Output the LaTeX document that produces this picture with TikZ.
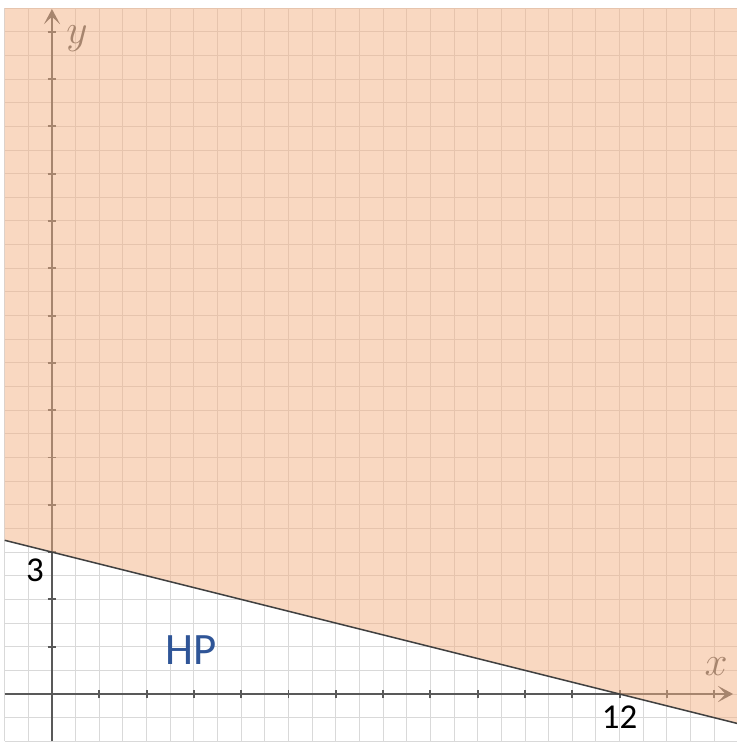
\documentclass[tikz,border=0pt]{standalone}
\usepackage{fontspec}
\newfontfamily\calib{Carlito}
\usetikzlibrary{arrows.meta}
\definecolor{gridgray}{HTML}{D9D9D9}
\definecolor{axisgray}{HTML}{595959}
\definecolor{bline}{HTML}{404040}
\definecolor{peach}{HTML}{F4B183}
\definecolor{hpblue}{HTML}{2F5597}
\tikzset{
  gridline/.style={draw=gridgray, line width=0.6pt},
  axisline/.style={draw=axisgray, line width=1.2pt, -{Stealth[length=3.2mm, width=3.4mm, inset=1.6mm]}},
  tickmark/.style={draw=axisgray, line width=1.1pt},
  axislabel/.style={text=axisgray, font=\fontsize{23}{26}\selectfont},
  numlabel/.style={text=black, font=\calib\fontsize{21}{24}\selectfont},
  region/.style={fill=peach, fill opacity=0.5},
  boundary/.style={draw=bline, line width=0.9pt}
}
\begin{document}
\begin{tikzpicture}
\useasboundingbox (-1.099,-1.078) rectangle (14.461,14.672);
% grid
\foreach \i in {0,...,31} {
  \draw[gridline] ({-1+0.5*\i},-1) -- ({-1+0.5*\i},14.5);
  \draw[gridline] (-1,{-1+0.5*\i}) -- (14.5,{-1+0.5*\i});
}
% axes
\coordinate (xs) at (-1,0);
\coordinate (xe) at (14.4,0);
\coordinate (ys) at (0,-1);
\coordinate (ye) at (0,14.48);
\draw[axisline] (xs) -- (xe);
\draw[axisline] (ys) -- (ye);
\foreach \k in {1,...,14} {
  \draw[tickmark] (\k,-0.09) -- (\k,0.09);
  \draw[tickmark] (-0.09,\k) -- (0.09,\k);
}
\node[axislabel] (xl) at (14.04,0.58) {$x$};
\node[axislabel] (yl) at (0.53,13.86) {$y$};
% shaded region
\coordinate (bl) at (-1,3.25);
\coordinate (br) at (14.5,-0.625);
\fill[region] (bl) -- (br) -- (14.5,14.5) -- (-1,14.5) -- cycle;
\draw[boundary] (bl) -- (br);
% labels
\node[numlabel] (three) at (-0.36,2.62) {3};
\node[numlabel] (twelve) at (12,-0.5) {12};
\node[text=hpblue, font=\calib\fontsize{27}{30}\selectfont] (hp) at (2.94,0.93) {HP};
\end{tikzpicture}
\end{document}
